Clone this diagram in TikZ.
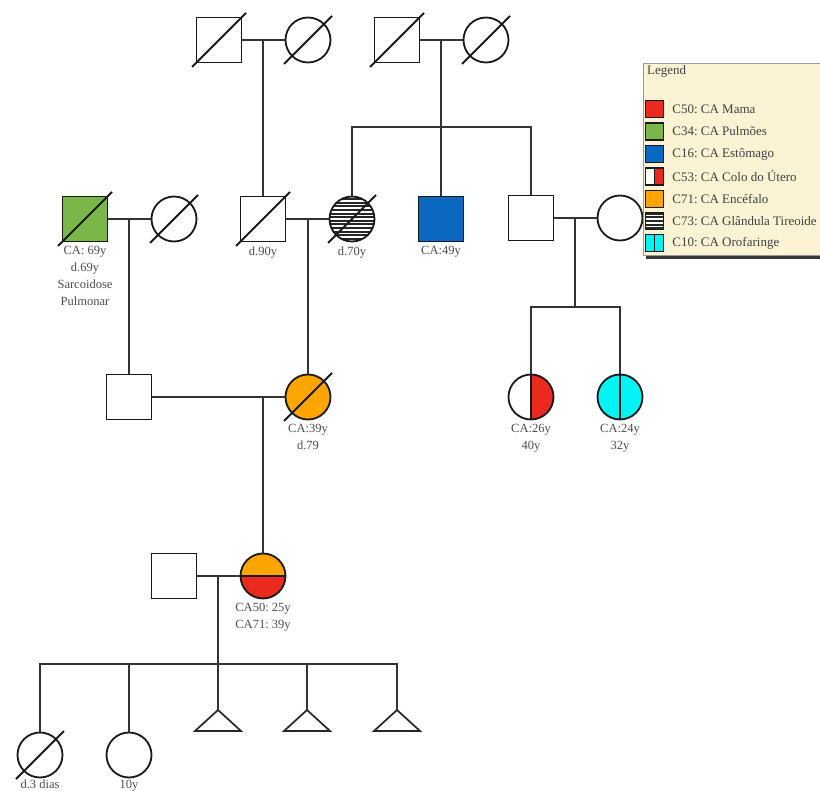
\documentclass[tikz,border=0pt]{standalone}
\usepackage{fontspec}
\setmainfont{Liberation Serif}
\usetikzlibrary{calc}
\definecolor{cared}{HTML}{EB2A1F}
\definecolor{cagreen}{HTML}{7AB648}
\definecolor{cablue}{HTML}{0A68C0}
\definecolor{caorange}{HTML}{FFA500}
\definecolor{cacyan}{HTML}{00F4F4}
\definecolor{legbg}{HTML}{FCF3D4}
\newcommand\deadmark[2]{\draw[slashln] ($(#1.center)+(-#2,#2)$) -- ($(#1.center)+(#2,-#2)$);}
\frenchspacing
\begin{document}
\begin{tikzpicture}[x=1pt,y=-1pt,
  conn/.style={draw=black!80, line width=1.7pt},
  person/.style={draw=black!90, line width=1.8pt, inner sep=0pt, minimum size=45pt, fill=white},
  male/.style={person, rectangle},
  female/.style={person, circle},
  slashln/.style={draw=black!90, line width=1.8pt},
  tri/.style={draw=black!85, line width=1.7pt, line join=miter},
  lbl/.style={anchor=north, inner sep=0pt, align=center, text=black!70, font=\fontsize{12.5}{17}\selectfont},
  legtxt/.style={anchor=west, inner sep=0pt, text=black!75, font=\fontsize{13}{15}\selectfont},
  swatch/.style={draw=black!90, line width=1.4pt, inner sep=0pt, minimum width=18pt, minimum height=17pt},
  hatched/.style={path picture={
    \fill[black!85] (path picture bounding box.south west) rectangle (path picture bounding box.north east);
    \foreach \k in {-21.6,-18,...,22} \draw[white, line width=1.5pt] ($(path picture bounding box.center)+(-30,\k)$) -- ++(60,0);}},
  halfred/.style={path picture={
    \fill[cared] (path picture bounding box.north) rectangle (path picture bounding box.south east);
    \draw[black!90, line width=1.8pt] (path picture bounding box.north) -- (path picture bounding box.south);}},
  cyansplit/.style={fill=cacyan, path picture={
    \draw[black!90, line width=1.8pt] (path picture bounding box.north) -- (path picture bounding box.south);}},
  orangered/.style={path picture={
    \fill[caorange] (path picture bounding box.north west) rectangle (path picture bounding box.east);
    \fill[cared] (path picture bounding box.west) rectangle (path picture bounding box.south east);
    \draw[black!90, line width=1.8pt] (path picture bounding box.west) -- (path picture bounding box.east);}},
]
\useasboundingbox (0,0) rectangle (820,791);

% generation I
\node[male]   (gf1) at (219,40) {};
\node[female] (gm1) at (308,40) {};
\node[male]   (gf2) at (397,40) {};
\node[female] (gm2) at (486,40) {};

% generation II
\node[male, fill=cagreen] (lungm) at (85,219) {};
\node[female] (wife1) at (174,219) {};
\node[male]   (d90) at (263,219) {};
\node[female, hatched] (d70) at (352,219) {};
\node[male, fill=cablue] (ca49) at (441,219) {};
\node[male]   (unc) at (531,218) {};
\node[female] (aunt) at (620,218) {};

% generation III
\node[male]   (fath) at (129,397) {};
\node[female, fill=caorange] (moth) at (308,397) {};
\node[female, halfred] (cous1) at (531,397) {};
\node[female, cyansplit] (cous2) at (620,397) {};

% generation IV
\node[male]   (husb) at (174,576) {};
\node[female, orangered] (prob) at (263,576) {};

% generation V
\node[female] (ch1) at (40,755) {};
\node[female] (ch2) at (129,755) {};
\coordinate (t1) at (218,710);
\coordinate (t2) at (307,710);
\coordinate (t3) at (397,710);
\foreach \t in {t1,t2,t3} \draw[tri] (\t) -- ++(-23,21) -- ++(46,0) -- cycle;

% deceased marks
\deadmark{gf1}{27}
\deadmark{gm1}{24}
\deadmark{gf2}{27}
\deadmark{gm2}{24}
\deadmark{lungm}{27}
\deadmark{wife1}{24}
\deadmark{d90}{27}
\deadmark{d70}{24}
\deadmark{moth}{24}
\deadmark{ch1}{24}

% couples and descent lines
\draw[conn] (gf1) -- (gm1);
\coordinate (m1) at (263,40);
\draw[conn] (m1) -- (m1 |- d90.north);

\draw[conn] (gf2) -- (gm2);
\coordinate (m2) at (441,40);
\coordinate (sib2) at (441,127);
\draw[conn] (m2) -- (sib2);
\draw[conn] (d70.north) -- (d70.north |- sib2) -- (unc.north |- sib2) -- (unc.north);
\draw[conn] (ca49.north) -- (ca49.north |- sib2);

\draw[conn] (lungm) -- (wife1);
\coordinate (m3) at (129,219);
\draw[conn] (m3) -- (m3 |- fath.north);

\draw[conn] (d90) -- (d70);
\coordinate (m4) at (308,219);
\draw[conn] (m4) -- (m4 |- moth.north);

\draw[conn] (unc) -- (aunt);
\coordinate (m6) at (575,218);
\coordinate (sib6) at (575,307);
\draw[conn] (m6) -- (sib6);
\draw[conn] (cous1.north) -- (cous1.north |- sib6) -- (cous2.north |- sib6) -- (cous2.north);

\draw[conn] (fath) -- (moth);
\coordinate (m5) at (prob.north |- fath.east);
\draw[conn] (m5) -- (prob.north);

\draw[conn] (husb) -- (prob);
\coordinate (m7) at (218,576);
\coordinate (sib7) at (218,664);
\draw[conn] (m7) -- (sib7);
\draw[conn] (ch1.north) -- (ch1.north |- sib7) -- (t3 |- sib7) -- (t3);
\draw[conn] (ch2.north) -- (ch2.north |- sib7);
\draw[conn] (t1 |- sib7) -- (t1);
\draw[conn] (t2 |- sib7) -- (t2);

% labels
\node[lbl] at ($(lungm.south)+(0,4)$) {CA: 69y\\d.69y\\Sarcoidose\\Pulmonar};
\node[lbl] at ($(d90.south)+(0,4)$) {d.90y};
\node[lbl] at ($(d70.south)+(0,4)$) {d.70y};
\node[lbl] at ($(ca49.south)+(0,4)$) {CA:49y};
\node[lbl] at ($(moth.south)+(0,4)$) {CA:39y\\d.79};
\node[lbl] at ($(cous1.south)+(0,4)$) {CA:26y\\40y};
\node[lbl] at ($(cous2.south)+(0,4)$) {CA:24y\\32y};
\node[lbl] at ($(prob.south)+(0,4)$) {CA50: 25y\\CA71: 39y};
\node[lbl] at ($(ch1.south)+(0,1.5)$) {d.3 dias};
\node[lbl] at ($(ch2.south)+(0,1.5)$) {10y};

% legend
\fill[black!78] (646,66) rectangle (832,259);
\filldraw[fill=legbg, draw=black!40, line width=0.9pt] (643,63) rectangle (832,255);
\node[legtxt, anchor=north west] (legtitle) at (647,65.5) {Legend};
\node[swatch, fill=cared]   (sw1) at (654.5,109) {};
\node[swatch, fill=cagreen] (sw2) at (654.5,131.5) {};
\node[swatch, fill=cablue]  (sw3) at (654.5,154) {};
\node[swatch, fill=white, path picture={
  \fill[cared] (path picture bounding box.north) rectangle (path picture bounding box.south east);
  \draw[black!90, line width=1.4pt] (path picture bounding box.north) -- (path picture bounding box.south);}] (sw4) at (654.5,176.5) {};
\node[swatch, fill=caorange] (sw5) at (654.5,199) {};
\node[swatch, fill=black!85, path picture={
  \foreach \k in {-5.4,-1.8,1.8,5.4} \draw[white, line width=1.5pt] ($(path picture bounding box.center)+(-12,\k)$) -- ++(24,0);}] (sw6) at (654.5,221) {};
\node[swatch, fill=cacyan, path picture={
  \draw[black!90, line width=1.4pt] (path picture bounding box.north) -- (path picture bounding box.south);}] (sw7) at (654.5,243) {};
\node[legtxt] at ($(sw1.east)+(8,0)$) {C50: CA Mama};
\node[legtxt] at ($(sw2.east)+(8,0)$) {C34: CA Pulmões};
\node[legtxt] at ($(sw3.east)+(8,0)$) {C16: CA Estômago};
\node[legtxt] at ($(sw4.east)+(8,0)$) {C53: CA Colo do Útero};
\node[legtxt] at ($(sw5.east)+(8,0)$) {C71: CA Encéfalo};
\node[legtxt] at ($(sw6.east)+(8,0)$) {C73: CA Glândula Tireoide};
\node[legtxt] at ($(sw7.east)+(8,0)$) {C10: CA Orofaringe};
\end{tikzpicture}
\end{document}
